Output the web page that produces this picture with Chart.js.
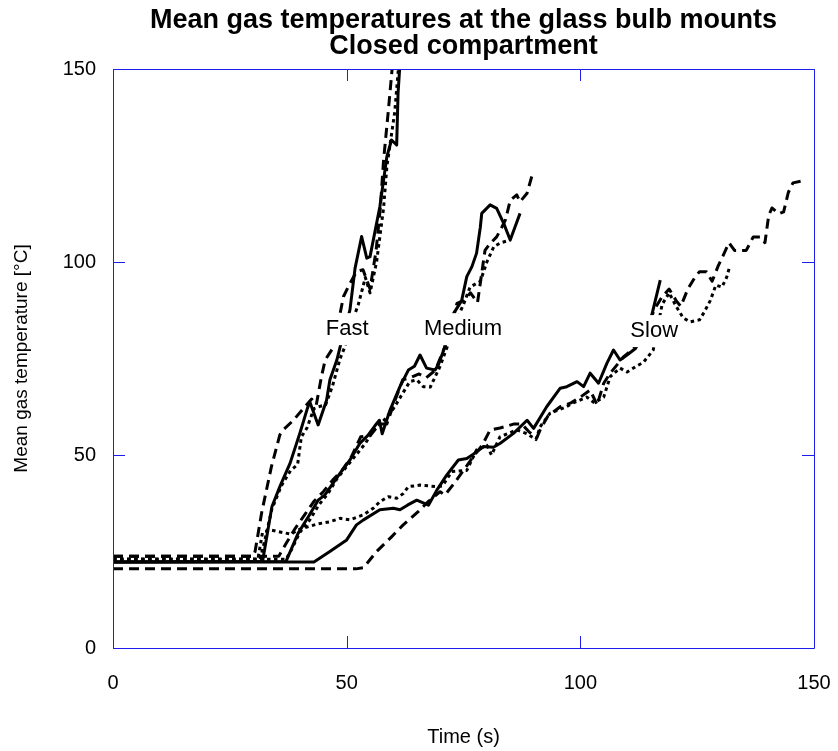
<!DOCTYPE html>
<html>
<head>
<meta charset="utf-8">
<script src="https://cdn.jsdelivr.net/npm/chart.js@4/dist/chart.umd.min.js"></script>
<style>
  html, body { margin: 0; padding: 0; background: #fff; }
</style>
</head>
<body>
<canvas id="chart" width="838" height="751"></canvas>
<script>
'use strict';

// [time (s), temperature (degC)]
var fastSolid = [[0,22.3],[32,22.4],[34,36.6],[35.7,41.8],[37.9,47.9],[40,55.7],[41.5,61.7],[42.1,63.8],[43.9,57.8],[45.7,64.2],[46.4,69.4],[47.9,74.6],[48.6,78],[50.7,87.6],[51.8,98.4],[53.2,106.6],[54.3,101],[55,101.4],[57.1,114.3],[58.6,127.3],[59.6,131.6],[60.7,130.3],[61,143.8],[61.6,155]];
var fastDashed = [[0,23.8],[30,23.8],[30.4,25],[31.8,35],[33.9,47],[35.7,55.2],[36.4,56.5],[38.6,59],[40.7,62],[42.5,64.5],[43.5,63],[44.6,70.3],[45.4,74.6],[47.2,78],[49.3,91],[50.5,94],[52.1,97.5],[53.5,98],[55,93],[56.3,103],[57.2,114],[57.9,126.4],[58.9,139],[59.8,151]];
var fastDotted = [[0,23],[31.5,23],[32.5,28],[34,36],[36,42],[38,46],[39.5,47.5],[40.3,54.7],[41.5,57],[43,62],[44,62.5],[45.5,63],[47,68],[48.6,75],[49.6,78],[51,84],[52.5,89],[54,96],[55,92],[56.4,100],[57.9,114],[58.6,124.7],[60.3,139],[61.2,152]];

var mediumSolid = [[0,22.3],[37,22.4],[39.6,29.7],[41.8,34],[43.9,38.3],[45.3,39.6],[47.1,42.7],[48.6,45.3],[50.7,48.7],[52.8,53],[54.5,55],[56,57.5],[57,59],[57.6,55.5],[59.3,61.7],[61.4,67.7],[63.2,72],[64.5,73],[65.7,75.9],[67.1,72.5],[68.9,72],[69.6,73.3],[71,78],[72.9,86.7],[74.6,90],[75.7,96.2],[76.8,98.8],[77.8,102.3],[78.6,109],[78.9,112.6],[80.7,114.8],[82.1,113.9],[83.6,110],[85,105.7],[86,109],[87.1,112.6]];
var mediumDashed = [[0,23.8],[35.5,23.8],[37,27],[39,31],[41,34.5],[43,38],[45,40.5],[47,43.5],[49,46],[51,49.5],[53,54.7],[55,55],[57,58],[58.6,58],[60,63],[62,69.5],[63.6,70],[65.5,71],[67,70],[69,72],[71,78],[72.5,84],[73.6,89.3],[75,90],[76.5,92],[78,89.5],[79.6,103],[80.7,104.8],[82.1,106.5],[83.2,109],[84,111],[85,116],[86.4,117.4],[87.1,115.6],[88.6,117.8],[89.8,123]];
var mediumDotted = [[0,23],[37,23],[38,25],[40,30],[42,33],[44,37],[46,40],[48,44],[50,47],[52,50],[54,53],[56,57],[58,59],[60,62],[62,66],[63.5,69],[65,69.5],[66.4,67.7],[67.9,67.6],[70,73],[71.5,78],[73.5,85],[75,89],[76.4,93.5],[78.6,95],[80,100],[81.5,104],[83,105],[85,105.7]];

var slowSolid = [[0,22.3],[43,22.3],[46.4,25],[50,28],[52.1,31.9],[53.6,33.2],[57.1,35.8],[60,36.2],[61.4,35.8],[63,37],[65,38.3],[67.5,37],[69.3,40.9],[71.4,44.8],[73.9,48.7],[75.7,49.1],[77.1,50.2],[79.3,52.2],[81.4,52],[82.8,53],[85.7,55.6],[88.6,59],[90,56.9],[92.8,62.5],[95.7,67.3],[97.1,67.7],[99.3,69],[100.7,67.7],[102.1,71.2],[103.9,68.6],[105.7,73.8],[107.1,77.2],[108.5,74.6],[110,75.9],[111.8,77.6],[113.5,81],[115.3,86.3],[117.1,95.3]];
var slowDashed = [[0,20.5],[52,20.5],[53.6,20.8],[56.4,25],[59.6,28.8],[62.1,31.9],[65.3,35.3],[67.5,38],[70,40.5],[71,39.6],[72.9,42.5],[75,46],[77.1,49.6],[79,52.5],[80.7,56.5],[82.8,57],[84,57.4],[85.7,58],[87.5,58],[89,56],[90.7,54.5],[91.4,56.5],[93,60],[95.7,62.5],[98,63.5],[100,65],[102.1,66.8],[103.6,63],[105,68.6],[106.4,71.2],[109.3,75.5],[111.4,77.6],[113,80],[116,88],[117.5,91],[119,93],[120.5,90],[121.5,88.5],[123,93],[124.5,96],[125.5,97.5],[127,97.5],[128.2,95],[129.5,99],[130.5,101.5],[131.8,105],[133,103],[135.5,103],[137,106.5],[138.5,106.5],[139.5,105],[140.3,112],[141,114],[142.5,112.5],[143.5,113],[144.5,118],[145.5,120.5],[147.5,121]];
var slowDotted = [[0,23],[31,23],[32,30],[34,30.5],[36,30],[38,29.5],[40,30.8],[42,31.5],[44,32.2],[46.4,32.7],[48.6,33.6],[50.7,33.2],[53.6,34.5],[55.7,36.2],[57.1,37.9],[58.9,39.2],[60.7,38.8],[62.1,40],[63.2,41.8],[65.7,42.2],[69.3,41.8],[70.5,42],[72.5,45.7],[75.7,46],[77.8,51.3],[80,52.5],[81,50],[82.8,54.7],[86.4,56.5],[88.6,55.5],[90.5,54],[91.4,57.3],[93.5,60.8],[97,62.5],[98.5,63.5],[101.4,65],[103,63.5],[105,65],[106.4,70.3],[108.5,72.5],[110,71.5],[112,73],[113.5,74],[115.6,77.2],[117.5,89],[119,92],[120.5,88.5],[122,85.5],[123.5,84.5],[125.5,85],[126.5,87],[127.8,90],[129,94],[130.3,93.5],[131.3,96],[132,99]];

var labelNames = ['Fast', 'Medium', 'Slow'];
var labelTime = [50.1, 74.9, 115.8];
var labelTemp = [82.6, 82.6, 82.1];

var xTicks = [0, 50, 100, 150];
var yTicks = [0, 50, 100, 150];

var FONT = "'Liberation Sans', Arial, Helvetica, sans-serif";
var AXIS = 'rgb(30,30,235)';
var DASHED = [10, 6];
var DOTTED = [3.5, 3.5];

function pts(arr) {
  return arr.map(function(p) {
    return { x: p[0], y: p[1] };
  });
}

function line(name, arr, dash) {
  return {
    label: name,
    data: pts(arr),
    borderColor: '#000',
    borderWidth: 3,
    borderDash: dash,
    borderCapStyle: 'butt',
    borderJoinStyle: 'round',
    pointRadius: 0,
    tension: 0,
    fill: false
  };
}

// text labels with white boxes, placed through the scales
var curveLabels = {
  id: 'curveLabels',
  afterDatasetsDraw: function(chart) {
    var ctx = chart.ctx;
    var xs = chart.scales.x, ys = chart.scales.y;
    ctx.save();
    ctx.font = '22px ' + FONT;
    ctx.textAlign = 'center';
    ctx.textBaseline = 'middle';
    labelNames.forEach(function(name, i) {
      var px = xs.getPixelForValue(labelTime[i]);
      var py = ys.getPixelForValue(labelTemp[i]);
      var w = ctx.measureText(name).width + 4;
      ctx.fillStyle = '#fff';
      ctx.fillRect(px - w / 2, py - 16, w, 32);
      ctx.fillStyle = '#000';
      ctx.fillText(name, px, py);
    });
    ctx.restore();
  }
};

// blue box with inward ticks on all four sides
var frame = {
  id: 'frame',
  afterDraw: function(chart) {
    var ctx = chart.ctx;
    var a = chart.chartArea;
    var xs = chart.scales.x, ys = chart.scales.y;
    var len = 12;
    ctx.save();
    ctx.strokeStyle = AXIS;
    ctx.lineWidth = 1;
    ctx.beginPath();
    ctx.rect(Math.round(a.left) + 0.5, Math.round(a.top) + 0.5,
      Math.round(a.right - a.left), Math.round(a.bottom - a.top));
    xTicks.forEach(function(v) {
      var px = Math.round(xs.getPixelForValue(v)) + 0.5;
      ctx.moveTo(px, a.bottom);
      ctx.lineTo(px, a.bottom - len);
      ctx.moveTo(px, a.top);
      ctx.lineTo(px, a.top + len);
    });
    yTicks.forEach(function(v) {
      var py = Math.round(ys.getPixelForValue(v)) + 0.5;
      ctx.moveTo(a.left, py);
      ctx.lineTo(a.left + len, py);
      ctx.moveTo(a.right, py);
      ctx.lineTo(a.right - len, py);
    });
    ctx.stroke();
    ctx.restore();
  }
};

var chart = new Chart(document.getElementById('chart'), {
  type: 'line',
  data: {
    datasets: [
      line('Slow dashed', slowDashed, DASHED),
      line('Slow dotted', slowDotted, DOTTED),
      line('Slow', slowSolid, []),
      line('Medium dashed', mediumDashed, DASHED),
      line('Medium dotted', mediumDotted, DOTTED),
      line('Medium', mediumSolid, []),
      line('Fast dashed', fastDashed, DASHED),
      line('Fast dotted', fastDotted, DOTTED),
      line('Fast', fastSolid, [])
    ]
  },
  options: {
    responsive: false,
    animation: false,
    layout: { padding: { top: 0, right: 24, bottom: 0, left: 0 } },
    plugins: {
      legend: { display: false },
      tooltip: { enabled: false },
      title: {
        display: true,
        fullSize: false,
        text: ['Mean gas temperatures at the glass bulb mounts', 'Closed compartment'],
        color: '#000',
        font: { family: FONT, size: 27, weight: 'bold', lineHeight: 0.963 },
        padding: { top: 8, bottom: 9 }
      }
    },
    scales: {
      x: {
        type: 'linear',
        min: 0,
        max: 150,
        afterBuildTicks: function(s) {
          s.ticks = xTicks.map(function(v) { return { value: v }; });
        },
        afterFit: function(s) { s.height = 103; },
        // grid hidden; tickLength only spaces the labels off the axis
        grid: { display: false, drawTicks: true, tickLength: 23 },
        border: { display: false },
        ticks: { color: '#000', font: { family: FONT, size: 20 }, padding: 0, maxRotation: 0 },
        title: {
          display: true,
          text: 'Time (s)',
          color: '#000',
          font: { family: FONT, size: 20 },
          padding: { top: 0, bottom: 2 }
        }
      },
      y: {
        type: 'linear',
        min: 0,
        max: 150,
        afterBuildTicks: function(s) {
          s.ticks = yTicks.map(function(v) { return { value: v }; });
        },
        afterFit: function(s) { s.width = 113; },
        grid: { display: false, drawTicks: true, tickLength: 17 },
        border: { display: false },
        ticks: { color: '#000', font: { family: FONT, size: 20 }, padding: 0 },
        title: {
          display: true,
          text: 'Mean gas temperature [°C]',
          color: '#000',
          font: { family: FONT, size: 19 },
          padding: { top: 10, bottom: 0 }
        }
      }
    }
  },
  plugins: [curveLabels, frame]
});
</script>
</body>
</html>
